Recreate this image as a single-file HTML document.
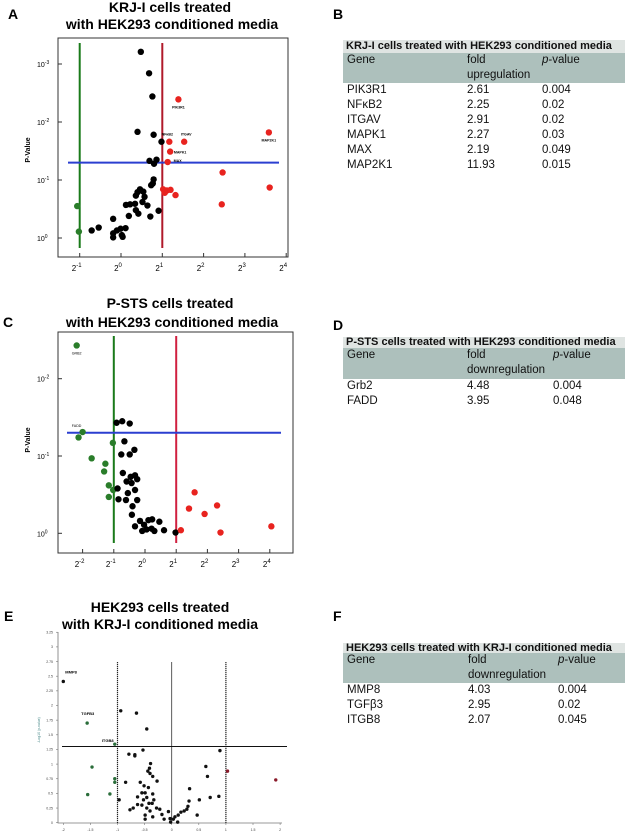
<!DOCTYPE html>
<html><head><meta charset="utf-8">
<style>
body{margin:0;background:#fff;width:627px;height:834px;position:relative;overflow:hidden;font-family:"Liberation Sans",sans-serif}
svg{position:absolute;left:0;top:0}
.tbl{position:absolute;left:343px;width:282px;font-size:11.5px;color:#111}
.tt{background:#dfe4e2;font-weight:bold;height:13px;line-height:13px;padding-left:3px;font-size:11px;white-space:nowrap}
.th{background:#adc0bc;height:30px;position:relative}
.row{height:15px;position:relative}
.c{position:absolute;top:0;line-height:15px;white-space:nowrap}
.plabel{position:absolute;font-weight:bold;font-size:14px}
</style></head><body>
<div class="plabel" style="left:8px;top:6px">A</div>
<div class="plabel" style="left:333px;top:6px">B</div>
<div class="plabel" style="left:3px;top:314px">C</div>
<div class="plabel" style="left:333px;top:317px">D</div>
<div class="plabel" style="left:4px;top:608px">E</div>
<div class="plabel" style="left:333px;top:608px">F</div>

<div class="tbl" style="top:40px">
<div class="tt">KRJ-I cells treated with HEK293 conditioned media</div>
<div class="th"><span class="c" style="left:4px">Gene</span><span class="c" style="left:124px">fold<br>upregulation</span><span class="c" style="left:199px"><i>p</i>-value</span></div>
<div class="row"><span class="c" style="left:4px">PIK3R1</span><span class="c" style="left:124px">2.61</span><span class="c" style="left:199px">0.004</span></div>
<div class="row"><span class="c" style="left:4px">NFκB2</span><span class="c" style="left:124px">2.25</span><span class="c" style="left:199px">0.02</span></div>
<div class="row"><span class="c" style="left:4px">ITGAV</span><span class="c" style="left:124px">2.91</span><span class="c" style="left:199px">0.02</span></div>
<div class="row"><span class="c" style="left:4px">MAPK1</span><span class="c" style="left:124px">2.27</span><span class="c" style="left:199px">0.03</span></div>
<div class="row"><span class="c" style="left:4px">MAX</span><span class="c" style="left:124px">2.19</span><span class="c" style="left:199px">0.049</span></div>
<div class="row"><span class="c" style="left:4px">MAP2K1</span><span class="c" style="left:124px">11.93</span><span class="c" style="left:199px">0.015</span></div>
</div>

<div class="tbl" style="top:337px">
<div class="tt" style="height:11px;line-height:11px">P-STS cells treated with HEK293 conditioned media</div>
<div class="th" style="height:31px"><span class="c" style="left:4px">Gene</span><span class="c" style="left:124px">fold<br>downregulation</span><span class="c" style="left:210px"><i>p</i>-value</span></div>
<div class="row"><span class="c" style="left:4px">Grb2</span><span class="c" style="left:124px">4.48</span><span class="c" style="left:210px">0.004</span></div>
<div class="row"><span class="c" style="left:4px">FADD</span><span class="c" style="left:124px">3.95</span><span class="c" style="left:210px">0.048</span></div>
</div>

<div class="tbl" style="top:643px">
<div class="tt" style="height:10px;line-height:10px">HEK293 cells treated with KRJ-I conditioned media</div>
<div class="th"><span class="c" style="left:4px">Gene</span><span class="c" style="left:125px">fold<br>downregulation</span><span class="c" style="left:215px"><i>p</i>-value</span></div>
<div class="row"><span class="c" style="left:4px">MMP8</span><span class="c" style="left:125px">4.03</span><span class="c" style="left:215px">0.004</span></div>
<div class="row"><span class="c" style="left:4px">TGFβ3</span><span class="c" style="left:125px">2.95</span><span class="c" style="left:215px">0.02</span></div>
<div class="row"><span class="c" style="left:4px">ITGB8</span><span class="c" style="left:125px">2.07</span><span class="c" style="left:215px">0.045</span></div>
</div>

<svg id="plots" width="627" height="834" xmlns="http://www.w3.org/2000/svg"></svg>

<script>
// Panel A: log2 fold change, -log10 p
const aFold=[0.48,0.68,0.76,0.40,0.79,0.98,0.69,0.86,0.80,0.79,0.77,0.73,0.46,0.40,0.54,0.36,0.57,0.34,0.52,0.64,0.22,0.12,0.36,0.19,0.42,0.71,0.91,-0.19,0.11,-0.01,-0.54,-0.71,-0.19,0.02,-0.19,0.04,-0.10,
 1.39,1.17,1.53,1.19,1.13,3.58,2.46,1.02,1.11,1.20,1.06,1.32,2.44,3.60,-1.06,-1.02];
const aNegLogP=[3.21,2.84,2.44,1.83,1.78,1.66,1.33,1.35,1.28,1.01,0.94,0.91,0.84,0.79,0.80,0.73,0.71,0.59,0.62,0.56,0.58,0.57,0.48,0.38,0.42,0.37,0.47,0.33,0.17,0.16,0.18,0.13,0.08,0.05,0.01,0.02,0.13,
 2.39,1.66,1.66,1.49,1.31,1.82,1.13,0.84,0.82,0.83,0.78,0.74,0.58,0.87,0.55,0.11];
const aGroup=[..."bbbbbbbbbbbbbbbbbbbbbbbbbbbbbbbbbbbbb","rrrrrrrrrrrrrr","gg"].join('').split('');
const aLabels=[["PIK3R1",1.39,2.39,0,9],["NFκB2",1.17,1.66,-2,-6],["ITGAV",1.53,1.66,2,-6],["MAPK1",1.19,1.49,10,2],["MAX",1.13,1.31,10,0],["MAP2K1",3.58,1.82,0,9]];
const aXTicks=[-1,0,1,2,3,4];
const aYTicks=[3,2,1,0];
// Panel C
const cFold=[-2.19,-2.0,-2.13,-1.71,-1.27,-1.31,-1.03,-1.16,-1.02,-1.16,
 -0.91,-0.73,-0.49,-0.66,-0.34,-0.76,-0.49,-0.71,-0.46,-0.32,-0.25,-0.59,-0.43,-0.88,-0.55,-0.32,-0.85,-0.61,-0.25,-0.40,-0.42,-0.32,-0.16,-0.03,0.11,0.21,0.30,0.46,0.61,-0.09,0.98,0.05,0.23,
 1.15,1.59,1.41,1.91,2.31,2.42,4.05];
const cNegLogP=[2.43,1.31,1.24,0.97,0.90,0.80,1.17,0.62,0.56,0.47,
 1.43,1.45,1.42,1.19,1.08,1.02,1.02,0.78,0.73,0.75,0.70,0.67,0.65,0.58,0.52,0.56,0.44,0.43,0.43,0.35,0.24,0.09,0.16,0.11,0.17,0.06,0.03,0.15,0.04,0.03,0.01,0.05,0.18,
 0.04,0.53,0.32,0.25,0.36,0.01,0.09];
const cGroup=["gggggggggg","bbbbbbbbbbbbbbbbbbbbbbbbbbbbbbbbb","rrrrrrr"].join('').split('');
const cLabels=[["GRB2",-2.19,2.43,0,9],["FADD",-2.0,1.31,-6,-5]];
const cXTicks=[-2,-1,0,1,2,3,4];
const cYTicks=[2,1,0];
// Panel E: log2 fold, -log10 p
const eFold=[-2.0,-1.56,-1.05,-1.47,-1.05,-1.05,-1.55,-1.14,
 -0.94,-0.65,-0.46,-0.53,-0.79,-0.68,-0.68,-0.39,-0.41,-0.44,-0.40,-0.35,-0.85,-0.58,-0.27,-0.51,-0.43,-0.55,-0.49,-0.35,-0.63,-0.46,-0.97,-0.52,-0.33,-0.63,-0.55,-0.42,-0.36,-0.28,-0.71,-0.77,-0.46,-0.40,-0.22,-0.49,-0.35,-0.49,-0.18,-0.14,-0.06,-0.03,-0.02,0.03,0.06,0.11,0.12,0.17,0.23,0.28,0.30,0.32,0.33,0.47,0.51,0.63,0.66,0.71,0.87,0.89,
 1.03,1.92];
const eNegLogP=[2.41,1.70,1.34,0.95,0.75,0.69,0.48,0.49,
 1.91,1.87,1.60,1.24,1.17,1.16,1.14,1.01,0.93,0.88,0.84,0.79,0.69,0.69,0.71,0.63,0.60,0.51,0.51,0.49,0.44,0.43,0.39,0.39,0.39,0.31,0.30,0.33,0.33,0.25,0.25,0.22,0.25,0.20,0.23,0.13,0.10,0.06,0.14,0.06,0.19,0.07,0.01,0.06,0.10,0.01,0.13,0.18,0.20,0.23,0.28,0.37,0.58,0.13,0.39,0.96,0.79,0.43,0.45,1.23,
 0.88,0.73];
const eGroup=["kgggggggg".slice(1),"b".repeat(60),"rr"].join('').split('');
const eLabels=[["MMP8",-2.0,2.41,2,-8],["TGFB3",-1.56,1.70,-6,-8],["ITGB8",-1.05,1.34,-13,-2]];
const eXTicks=[-2,-1.5,-1,-0.5,0,0.5,1,1.5,2];
const eYTicks=[0,0.25,0.5,0.75,1,1.25,1.5,1.75,2,2.25,2.5,2.75,3,3.25];

const NS="http://www.w3.org/2000/svg";
const svg=document.getElementById('plots');
function mk(tag,attrs,parent){const e=document.createElementNS(NS,tag);for(const k in attrs)e.setAttribute(k,attrs[k]);(parent||svg).appendChild(e);return e;}
const colors={b:"#000",r:"#e8231f",g:"#2a7d2a"};

// ---------- Panel A ----------
const axA=l=>121+41.3*l, ayA=n=>238-58*n;
const gA=mk('g',{});


let t=mk('text',{x:170,y:12,'text-anchor':'middle','font-size':14,'font-weight':'bold'},gA);t.textContent="KRJ-I cells treated";


t=mk('text',{x:172,y:29,'text-anchor':'middle','font-size':14,'font-weight':'bold'},gA);t.textContent="with HEK293 conditioned media";


let fr=mk('rect',{x:58,y:38,width:230,height:219,fill:'none',stroke:'#333','stroke-width':1},gA);


aXTicks.forEach(v=>{const x=axA(v);mk('line',{x1:x,x2:x,y1:257,y2:253,stroke:'#333'},gA);
 const tx=mk('text',{x:x-3,y:271,'font-size':8,'text-anchor':'middle'},gA);tx.innerHTML='2<tspan dy="-4" font-size="6">'+v+'</tspan>';
 
 });
aYTicks.forEach(v=>{const y=ayA(v);mk('line',{x1:58,x2:62,y1:y,y2:y,stroke:'#333'},gA);
 const tx=mk('text',{x:37,y:y+3,'font-size':7},gA);tx.innerHTML='10<tspan dy="-3" font-size="5">'+(v?'-'+v:'0')+'</tspan>';
 
 });
t=mk('text',{x:0,y:0,'font-size':7,'font-weight':'bold','text-anchor':'middle',transform:'translate(30,150) rotate(-90)'},gA);t.textContent='P-Value';


let ln=mk('line',{x1:axA(-1),x2:axA(-1),y1:43,y2:248,stroke:'#1a7a1a','stroke-width':2},gA);


ln=mk('line',{x1:axA(1),x2:axA(1),y1:43,y2:248,stroke:'#b01a2a','stroke-width':2},gA);


ln=mk('line',{x1:68,x2:279,y1:ayA(1.3),y2:ayA(1.3),stroke:'#2b3fd0','stroke-width':2},gA);


aFold.forEach((v,i)=>{const c=mk('circle',{cx:axA(v),cy:ayA(aNegLogP[i]),r:3.2,fill:colors[aGroup[i]]},gA);
 
 });
aLabels.forEach(L=>{const tx=mk('text',{x:axA(L[1])+L[3],y:ayA(L[2])+L[4],'font-size':3.6,'font-weight':'bold','text-anchor':'middle'},gA);tx.textContent=L[0];
 
 });

// ---------- Panel C ----------
const axC=l=>145+31.2*l, ayC=n=>533.3-77.3*n;
const gC=mk('g',{});


t=mk('text',{x:170,y:308,'text-anchor':'middle','font-size':14,'font-weight':'bold'},gC);t.textContent="P-STS cells treated";


t=mk('text',{x:172,y:327,'text-anchor':'middle','font-size':14,'font-weight':'bold'},gC);t.textContent="with HEK293 conditioned media";


fr=mk('rect',{x:58,y:332,width:235,height:221,fill:'none',stroke:'#333','stroke-width':1},gC);


cXTicks.forEach(v=>{const x=axC(v);mk('line',{x1:x,x2:x,y1:553,y2:549,stroke:'#333'},gC);
 const tx=mk('text',{x:x-3,y:567,'font-size':8,'text-anchor':'middle'},gC);tx.innerHTML='2<tspan dy="-4" font-size="6">'+v+'</tspan>';
 
 });
cYTicks.forEach(v=>{const y=ayC(v);mk('line',{x1:58,x2:62,y1:y,y2:y,stroke:'#333'},gC);
 const tx=mk('text',{x:37,y:y+3,'font-size':7},gC);tx.innerHTML='10<tspan dy="-3" font-size="5">'+(v?'-'+v:'0')+'</tspan>';
 
 });
t=mk('text',{x:0,y:0,'font-size':7,'font-weight':'bold','text-anchor':'middle',transform:'translate(30,440) rotate(-90)'},gC);t.textContent='P-Value';


ln=mk('line',{x1:axC(-1),x2:axC(-1),y1:336,y2:543,stroke:'#1a7a1a','stroke-width':2},gC);


ln=mk('line',{x1:axC(1),x2:axC(1),y1:336,y2:543,stroke:'#d02040','stroke-width':2},gC);


ln=mk('line',{x1:67,x2:281,y1:ayC(1.3),y2:ayC(1.3),stroke:'#2b3fd0','stroke-width':2},gC);


cFold.forEach((v,i)=>{const c=mk('circle',{cx:axC(v),cy:ayC(cNegLogP[i]),r:3.2,fill:colors[cGroup[i]]},gC);
 
 });
cLabels.forEach(L=>{const tx=mk('text',{x:axC(L[1])+L[3],y:ayC(L[2])+L[4],'font-size':3.6,'text-anchor':'middle'},gC);tx.textContent=L[0];
 
 });

// ---------- Panel E ----------
const axE=v=>171.7+54.2*v, ayE=v=>822.7-58.6*v;
const gE=mk('g',{});


t=mk('text',{x:160,y:612,'text-anchor':'middle','font-size':14,'font-weight':'bold'},gE);t.textContent="HEK293 cells treated";


t=mk('text',{x:160,y:629,'text-anchor':'middle','font-size':14,'font-weight':'bold'},gE);t.textContent="with KRJ-I conditioned media";


ln=mk('path',{d:'M58,632V823H282',fill:'none',stroke:'#777','stroke-width':0.8},gE);


eXTicks.forEach(v=>{const x=axE(v);mk('line',{x1:x,x2:x,y1:823,y2:825,stroke:'#777','stroke-width':0.6},gE);
 const tx=mk('text',{x:x,y:831,'font-size':3.5,'text-anchor':'middle','fill':'#444'},gE);tx.textContent=v;
 
 });
eYTicks.forEach(v=>{const y=ayE(v);mk('line',{x1:56,x2:58,y1:y,y2:y,stroke:'#777','stroke-width':0.6},gE);
 const tx=mk('text',{x:53,y:y+1.2,'font-size':3.5,'text-anchor':'end','fill':'#444'},gE);tx.textContent=v;
 
 });
t=mk('text',{x:0,y:0,'font-size':3.5,'fill':'#4a8a8a','text-anchor':'middle',transform:'translate(40,730) rotate(-90)'},gE);t.textContent='-Log10 (p-value)';


[-1,1].forEach(v=>{const l=mk('line',{x1:axE(v),x2:axE(v),y1:662,y2:823,stroke:'#222','stroke-width':1.2,'stroke-dasharray':'1.2,0.8'},gE);
 
 });
ln=mk('line',{x1:axE(0),x2:axE(0),y1:662,y2:823,stroke:'#333','stroke-width':0.8},gE);


ln=mk('line',{x1:62,x2:287,y1:ayE(1.3),y2:ayE(1.3),stroke:'#111','stroke-width':1},gE);


const eCol={b:"#111",g:"#2a6d3a",r:"#8a1a2a"};
eFold.forEach((v,i)=>{const c=mk('circle',{cx:axE(v),cy:ayE(eNegLogP[i]),r:1.7,fill:(i===0?'#111':eCol[eGroup[i]])},gE);
 
 });
eLabels.forEach(L=>{const tx=mk('text',{x:axE(L[1])+L[3],y:ayE(L[2])+L[4],'font-size':4,'font-weight':'bold','text-anchor':'start'},gE);tx.textContent=L[0];
 
 });
</script>
</body></html>
